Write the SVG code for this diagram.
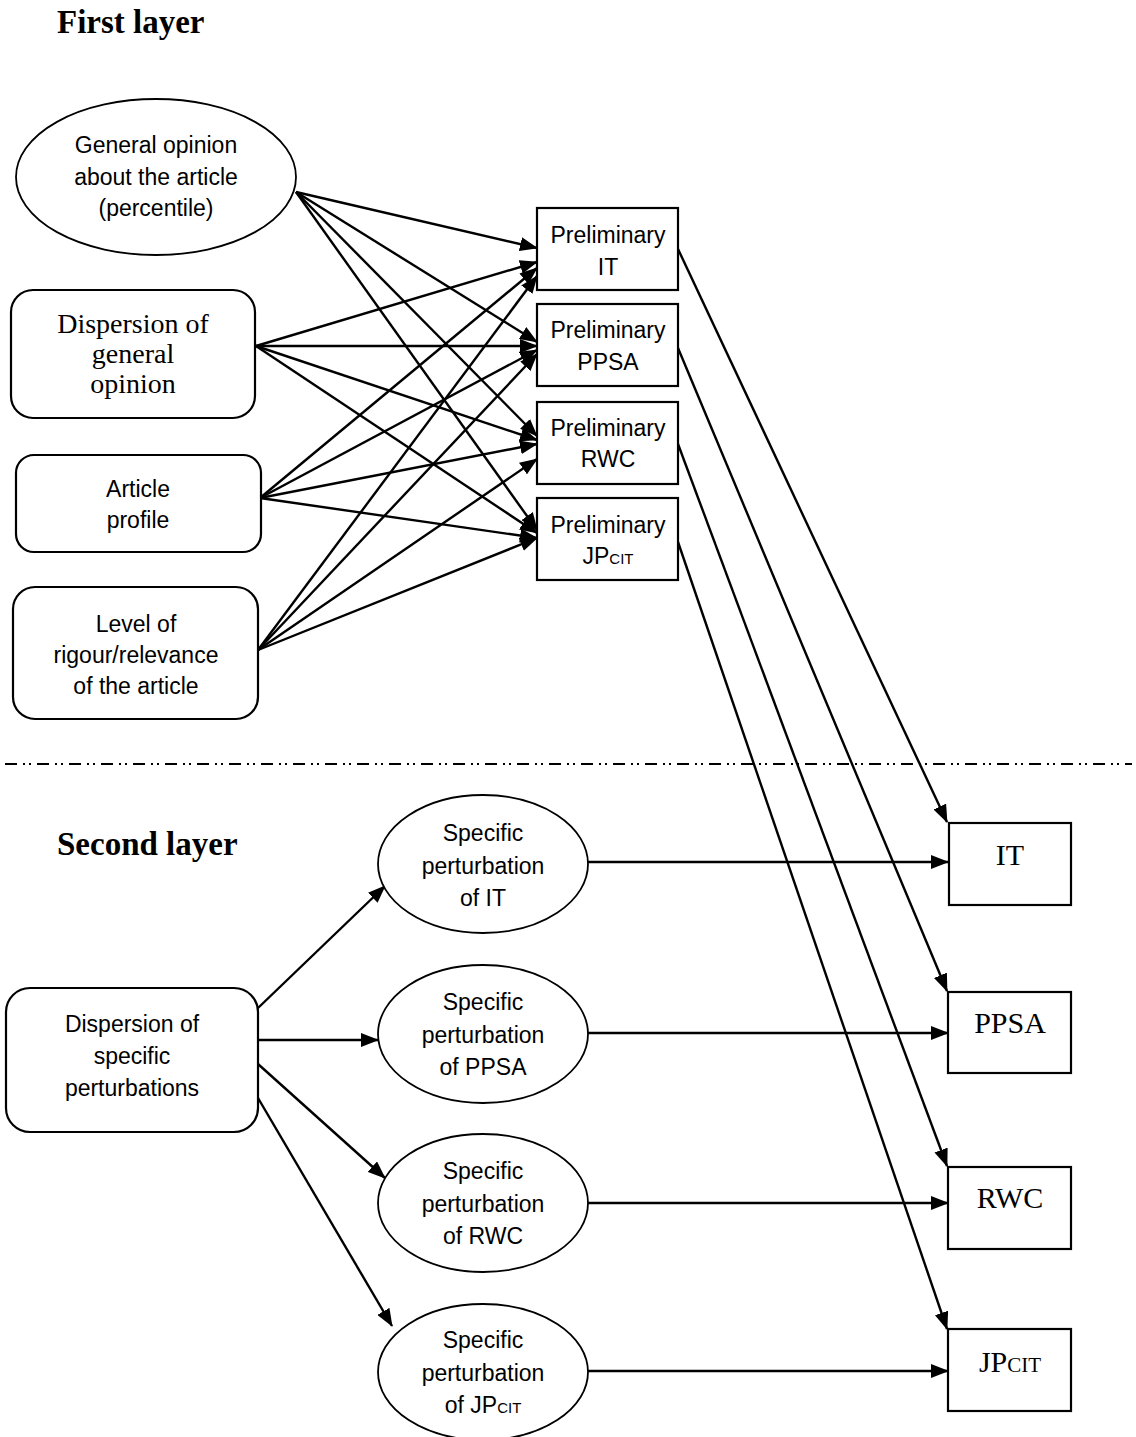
<svg xmlns="http://www.w3.org/2000/svg" width="1136" height="1437" viewBox="0 0 1136 1437">
<style>
.sh{fill:#fff;stroke:#000;stroke-width:2.2}
.sans{font-family:"Liberation Sans",Arial,sans-serif;font-size:23px;fill:#000;text-anchor:middle}
.serif{font-family:"Liberation Serif","Times New Roman",serif;font-size:28px;fill:#000;text-anchor:middle}
.out{font-family:"Liberation Serif","Times New Roman",serif;font-size:30px;fill:#000;text-anchor:middle}
.title{font-family:"Liberation Serif","Times New Roman",serif;font-size:33px;font-weight:bold;fill:#000}
.c line{stroke:#000;stroke-width:2.4;fill:none;marker-end:url(#ah)}
</style>
<defs>
<marker id="ah" markerUnits="userSpaceOnUse" markerWidth="18" markerHeight="14" refX="17" refY="7" orient="auto">
<path d="M0,0 L18,7 L0,14 z" fill="#000"/>
</marker>
</defs>
<rect width="1136" height="1437" fill="#fff"/>
<text class="title" x="57" y="33">First layer</text>
<text class="title" x="57" y="855">Second layer</text>
<line x1="5" y1="764" x2="1132" y2="764" stroke="#000" stroke-width="2.2" stroke-dasharray="12 6 2 4 2 6"/>

<g class="c">
<line x1="296" y1="192" x2="537" y2="248"/>
<line x1="296" y1="192" x2="537" y2="342"/>
<line x1="296" y1="192" x2="537" y2="436"/>
<line x1="296" y1="192" x2="537" y2="530"/>
<line x1="256" y1="346" x2="537" y2="262"/>
<line x1="256" y1="346" x2="537" y2="346"/>
<line x1="256" y1="346" x2="537" y2="440"/>
<line x1="256" y1="346" x2="537" y2="533"/>
<line x1="260" y1="498" x2="537" y2="268"/>
<line x1="260" y1="498" x2="537" y2="350"/>
<line x1="260" y1="498" x2="537" y2="444"/>
<line x1="260" y1="498" x2="537" y2="538"/>
<line x1="258" y1="650" x2="537" y2="276"/>
<line x1="258" y1="650" x2="537" y2="354"/>
<line x1="258" y1="650" x2="537" y2="459"/>
<line x1="258" y1="650" x2="537" y2="538"/>
<line x1="678" y1="249" x2="947" y2="822"/>
<line x1="678" y1="348" x2="947" y2="991"/>
<line x1="678" y1="444" x2="947" y2="1166"/>
<line x1="678" y1="542" x2="947" y2="1329"/>
<line x1="258" y1="1008" x2="385" y2="886"/>
<line x1="258" y1="1040" x2="378" y2="1040"/>
<line x1="258" y1="1064" x2="385" y2="1178"/>
<line x1="258" y1="1098" x2="392" y2="1326"/>
<line x1="588" y1="862" x2="948" y2="862"/>
<line x1="588" y1="1033" x2="948" y2="1033"/>
<line x1="588" y1="1203" x2="948" y2="1203"/>
<line x1="588" y1="1371" x2="948" y2="1371"/>
</g>

<g id="general-opinion">
<ellipse class="sh" cx="156" cy="177" rx="140" ry="78" style="stroke-width:1.8"/>
<text class="sans" x="156" y="153">General opinion</text>
<text class="sans" x="156" y="185">about the article</text>
<text class="sans" x="156" y="216">(percentile)</text>
</g>
<g id="dispersion-general">
<rect class="sh" x="11" y="290" width="244" height="128" rx="22"/>
<text class="serif" x="133" y="333">Dispersion of</text>
<text class="serif" x="133" y="363">general</text>
<text class="serif" x="133" y="393">opinion</text>
</g>
<g id="article-profile">
<rect class="sh" x="16" y="455" width="245" height="97" rx="18"/>
<text class="sans" x="138" y="497">Article</text>
<text class="sans" x="138" y="528">profile</text>
</g>
<g id="level-rigour">
<rect class="sh" x="13" y="587" width="245" height="132" rx="22"/>
<text class="sans" x="136" y="632">Level of</text>
<text class="sans" x="136" y="663">rigour/relevance</text>
<text class="sans" x="136" y="694">of the article</text>
</g>

<g id="prelim-it">
<rect class="sh" x="537" y="208" width="141" height="82"/>
<text class="sans" x="608" y="243">Preliminary</text>
<text class="sans" x="608" y="275">IT</text>
</g>
<g id="prelim-ppsa">
<rect class="sh" x="537" y="304" width="141" height="82"/>
<text class="sans" x="608" y="338">Preliminary</text>
<text class="sans" x="608" y="370">PPSA</text>
</g>
<g id="prelim-rwc">
<rect class="sh" x="537" y="402" width="141" height="82"/>
<text class="sans" x="608" y="436">Preliminary</text>
<text class="sans" x="608" y="467">RWC</text>
</g>
<g id="prelim-jp">
<rect class="sh" x="537" y="498" width="141" height="82"/>
<text class="sans" x="608" y="533">Preliminary</text>
<text class="sans" x="608" y="564">JP<tspan style="font-size:15px">CIT</tspan></text>
</g>

<g id="out-it">
<rect class="sh" x="949" y="823" width="122" height="82"/>
<text class="out" x="1010" y="865">IT</text>
</g>
<g id="out-ppsa">
<rect class="sh" x="948" y="992" width="123" height="81"/>
<text class="out" x="1010" y="1033">PPSA</text>
</g>
<g id="out-rwc">
<rect class="sh" x="948" y="1167" width="123" height="82"/>
<text class="out" x="1010" y="1208">RWC</text>
</g>
<g id="out-jp">
<rect class="sh" x="948" y="1329" width="123" height="82"/>
<text class="out" x="1010" y="1372">JP<tspan style="font-size:21px">CIT</tspan></text>
</g>

<g id="dispersion-specific">
<rect class="sh" x="6" y="988" width="252" height="144" rx="24"/>
<text class="sans" x="132" y="1032">Dispersion of</text>
<text class="sans" x="132" y="1064">specific</text>
<text class="sans" x="132" y="1096">perturbations</text>
</g>

<g id="pert-it">
<ellipse class="sh" cx="483" cy="864" rx="105" ry="69" style="stroke-width:1.8"/>
<text class="sans" x="483" y="841">Specific</text>
<text class="sans" x="483" y="874">perturbation</text>
<text class="sans" x="483" y="906">of IT</text>
</g>
<g id="pert-ppsa">
<ellipse class="sh" cx="483" cy="1034" rx="105" ry="69" style="stroke-width:1.8"/>
<text class="sans" x="483" y="1010">Specific</text>
<text class="sans" x="483" y="1043">perturbation</text>
<text class="sans" x="483" y="1075">of PPSA</text>
</g>
<g id="pert-rwc">
<ellipse class="sh" cx="483" cy="1203" rx="105" ry="69" style="stroke-width:1.8"/>
<text class="sans" x="483" y="1179">Specific</text>
<text class="sans" x="483" y="1212">perturbation</text>
<text class="sans" x="483" y="1244">of RWC</text>
</g>
<g id="pert-jp">
<ellipse class="sh" cx="483" cy="1372" rx="105" ry="68" style="stroke-width:1.8"/>
<text class="sans" x="483" y="1348">Specific</text>
<text class="sans" x="483" y="1381">perturbation</text>
<text class="sans" x="483" y="1413">of JP<tspan style="font-size:15px">CIT</tspan></text>
</g>
</svg>
